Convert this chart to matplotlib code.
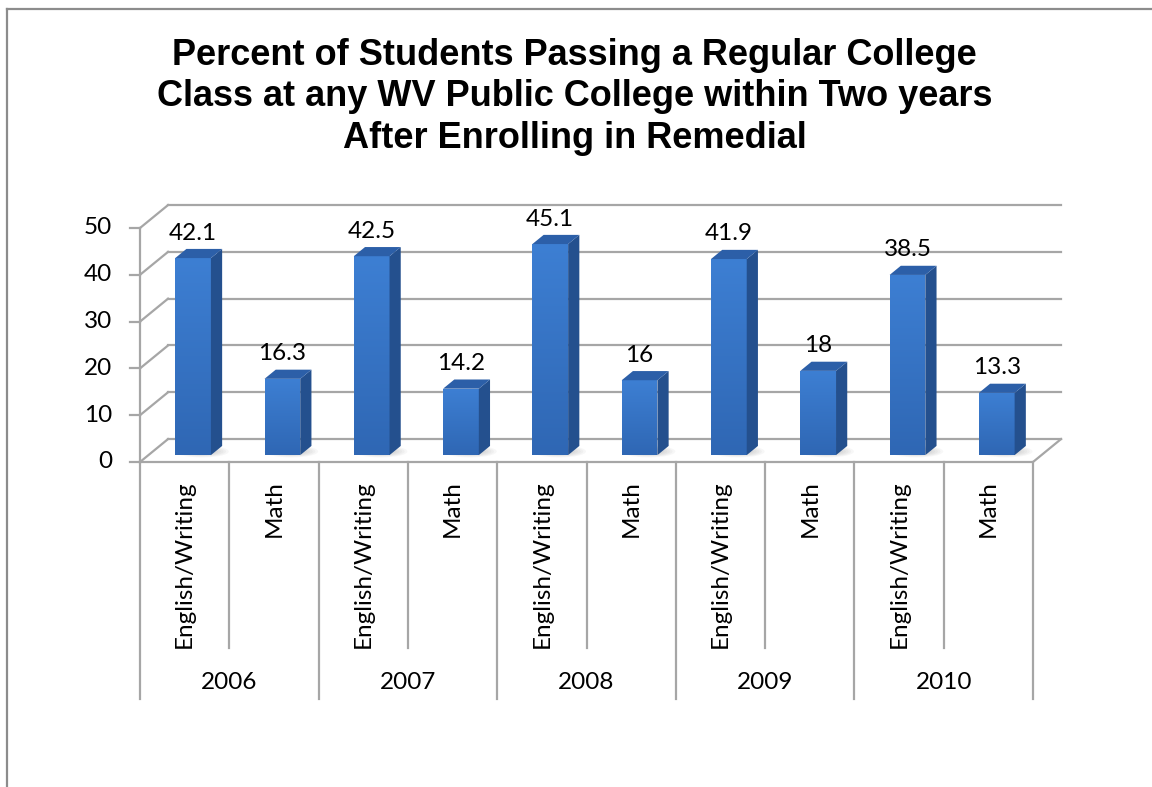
import numpy as np
import matplotlib.pyplot as plt
from matplotlib.patches import Polygon, Ellipse
from matplotlib.lines import Line2D
from matplotlib.colors import LinearSegmentedColormap

years = ['2006', '2007', '2008', '2009', '2010']
subjects = ['English/Writing', 'Math']
english = [42.1, 42.5, 45.1, 41.9, 38.5]
math_scores = [16.3, 14.2, 16.0, 18.0, 13.3]

values = []
cats = []
for e, m in zip(english, math_scores):
    values += [e, m]
    cats += subjects

W, H = 1152, 787
fig = plt.figure(figsize=(W / 100, H / 100), dpi=100)
fig.patch.set_facecolor('white')

# outer chart frame (only top and left edges show)
fig.add_artist(Line2D([7 / W, 7 / W], [0, 1 - 9 / H], color='#8c8c8c', lw=1.6))
fig.add_artist(Line2D([7 / W, 1], [1 - 9 / H, 1 - 9 / H], color='#8c8c8c', lw=1.6))

fig.text(0.499, 1 - 38 / H,
         'Percent of Students Passing a Regular College\n'
         'Class at any WV Public College within Two years\n'
         'After Enrolling in Remedial',
         ha='center', va='top', fontsize=26, fontweight='bold',
         family='Liberation Sans', linespacing=1.24)

# front plane of the 3d box
ax = fig.add_axes([140 / W, 1 - 462 / H, (1033 - 140) / W, (462 - 228) / H])
ax.set_xlim(0, 10)
ax.set_ylim(0, 50)
ax.axis('off')

DX = 0.314   # depth offset in category units
DY = 4.9     # depth offset in value units
grid = '#a6a6a6'
lab_font = dict(family='Lato', fontsize=17.5, color='black')

# back wall, side wall and floor
for v in range(0, 51, 10):
    ax.plot([DX, 10 + DX], [v + DY, v + DY], color=grid, lw=1.6, clip_on=False)
    ax.plot([0, DX], [v, v + DY], color=grid, lw=1.6, clip_on=False)
    ax.plot([-0.11, 0], [v, v], color=grid, lw=1.6, clip_on=False)
    ax.text(-0.31, v, str(v), ha='right', va='center', **lab_font)
ax.plot([0, 0], [0, 50], color=grid, lw=1.6, clip_on=False)
ax.plot([0, 10, 10 + DX], [0, 0, DY], color=grid, lw=1.6, clip_on=False)

# bars
bw = 0.4
d0, dd = 0.3, 0.4
cmap = LinearSegmentedColormap.from_list('face', ['#3d7fd3', '#2f67b4'])
grad = np.linspace(0, 1, 100).reshape(-1, 1)
for i, v in enumerate(values):
    x0 = i + 0.5 - bw / 2 + d0 * DX
    y0 = d0 * DY
    sx, sy = dd * DX, dd * DY

    # soft shadow on the floor
    for k in range(6):
        sh = Ellipse((x0 + bw * 0.75, y0 + sy * 0.4), bw * (1.5 - k * 0.15),
                     sy * (1.3 - k * 0.15), color='#7a7a7a', alpha=0.06, lw=0,
                     clip_on=False, zorder=2)
        ax.add_patch(sh)

    front = Polygon([(x0, y0), (x0 + bw, y0), (x0 + bw, y0 + v), (x0, y0 + v)],
                    closed=True, facecolor='none', edgecolor='none', zorder=3)
    ax.add_patch(front)
    im = ax.imshow(grad, cmap=cmap, aspect='auto', extent=(x0, x0 + bw, y0, y0 + v),
                   origin='upper', zorder=3, clip_on=True)
    im.set_clip_path(front)
    side = Polygon([(x0 + bw, y0), (x0 + bw + sx, y0 + sy),
                    (x0 + bw + sx, y0 + sy + v), (x0 + bw, y0 + v)],
                   closed=True, facecolor='#24508e', edgecolor='none',
                   zorder=3, clip_on=False)
    top = Polygon([(x0, y0 + v), (x0 + bw, y0 + v), (x0 + bw + sx, y0 + v + sy),
                   (x0 + sx, y0 + v + sy)],
                  closed=True, facecolor='#2c5fa8', edgecolor='none',
                  zorder=3, clip_on=False)
    ax.add_patch(side)
    ax.add_patch(top)
    ax.text(x0 + bw / 2, y0 + v + sy + 2.0, f'{v:g}', ha='center',
            va='baseline', zorder=4, **lab_font)

ax.set_xlim(0, 10)
ax.set_ylim(0, 50)

# category axis: subjects, then years
for i, c in enumerate(cats):
    ax.text(i + 0.5, -3.85, c, rotation=90, ha='center', va='top', **lab_font)
for j in range(1, 10, 2):
    ax.plot([j, j], [0, -39.7], color=grid, lw=1.6, clip_on=False)
for j in range(0, 11, 2):
    ax.plot([j, j], [0, -50.6], color=grid, lw=1.6, clip_on=False)
for k, y in enumerate(years):
    ax.text(2 * k + 1, -47.2, y, ha='center', va='center', **lab_font)

fig.savefig('out.png', dpi=100)
